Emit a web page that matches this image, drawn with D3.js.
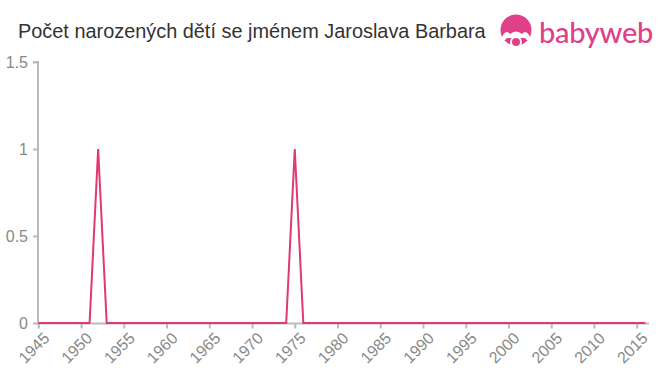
<!DOCTYPE html>
<html><head><meta charset="utf-8">
<script src="https://cdn.jsdelivr.net/npm/d3@7/dist/d3.min.js"></script>
<style>body{margin:0;background:#fff;font-family:"Liberation Sans",Arial,sans-serif;}</style>
</head><body>
<svg id="c" width="660" height="375"></svg>
<script>
const years = d3.range(1945, 2017);
const peakYears = [1952, 1975];
const values = years.map(y => peakYears.includes(y) ? 1 : 0);
const yTicks = [0, 0.5, 1, 1.5];
const xTicks = d3.range(1945, 2016, 5);
const title = "Počet narozených dětí se jménem Jaroslava Barbara";

const svg = d3.select("#c");
const x = d3.scaleLinear().domain([1945, 2015]).range([38.3, 636.7]);
const y = d3.scaleLinear().domain([0, 1.5]).range([323, 62]);

svg.append("text").attr("x", 18).attr("y", 38).attr("fill", "#333")
  .attr("font-size", 19.9).text(title);

// logo
const lg = svg.append("g");
lg.append("circle").attr("cx", 516).attr("cy", 30).attr("r", 15.5).attr("fill", "#e0408a");
lg.append("path").attr("d", "M502,37 q4,-8 8,-3 q6,-5 12,0 q4,-5 8,3 l0,4 q-3,0 -5,-3 l-18,0 q-2,3 -5,3 z").attr("fill", "#fff");
lg.append("circle").attr("cx", 516).attr("cy", 42).attr("r", 5).attr("fill", "#e0408a").attr("stroke", "#fff").attr("stroke-width", 2);
lg.append("text").attr("x", 539).attr("y", 43).attr("fill", "#e0408a")
  .attr("font-size", 29).attr("font-family", "Lato, 'Noto Sans', sans-serif").attr("font-weight", 500).attr("letter-spacing", -0.3).text("babyweb");

// y axis
const ya = svg.append("g").attr("transform", "translate(38,0)")
  .call(d3.axisLeft(y).tickValues(yTicks).tickSize(5).tickFormat(d => d));
ya.select(".domain").attr("stroke", "#bbb").attr("stroke-width", 2).attr("d", "M-5,62H0V323");
ya.selectAll(".tick line").attr("stroke", "#bbb").attr("stroke-width", 2);
ya.selectAll(".tick text").attr("fill", "#888").attr("font-size", 16).attr("font-family", "Liberation Sans, Arial, sans-serif").attr("x", -10);

// x axis
const xa = svg.append("g").attr("transform", "translate(0,323.5)")
  .call(d3.axisBottom(x).tickValues(xTicks).tickSize(5).tickFormat(d => d));
xa.select(".domain").attr("stroke", "#bbb").attr("stroke-width", 2).attr("d", "M38,0H649");
xa.selectAll(".tick line").attr("stroke", "#bbb").attr("stroke-width", 2);
xa.selectAll(".tick text").attr("fill", "#888").attr("font-size", 16).attr("font-family", "Liberation Sans, Arial, sans-serif")
  .attr("text-anchor", "end").attr("dy", 0).attr("transform", "translate(6,10) rotate(-45)");

// line
const line = d3.line().x((d, i) => x(years[i])).y(d => y(d));
svg.append("path").datum(values).attr("d", line).attr("fill", "none")
  .attr("stroke", "#e0396e").attr("stroke-width", 2).attr("stroke-linejoin", "miter");
</script>
</body></html>
